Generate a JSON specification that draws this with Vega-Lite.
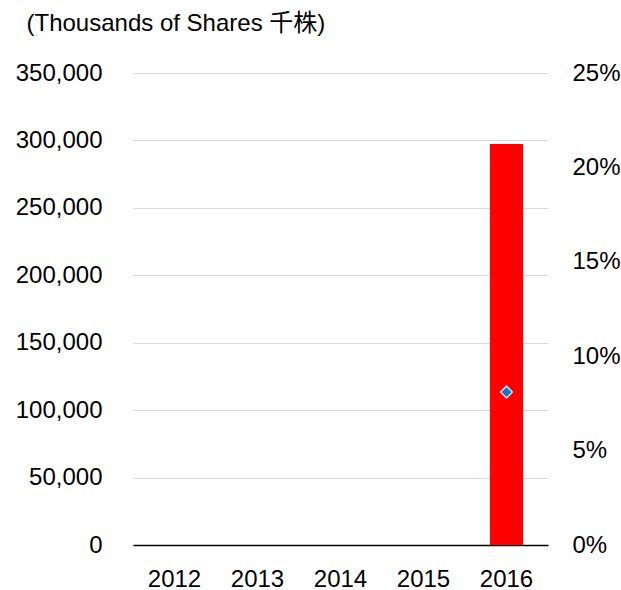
{
  "$schema": "https://vega.github.io/schema/vega-lite/v6.json",
  "width": 415,
  "height": 472,
  "autosize": "none",
  "padding": {"left": 133, "top": 73, "right": 73, "bottom": 45},
  "background": "white",
  "config": {
    "view": {"stroke": null},
    "font": "Liberation Sans, Arial, Noto Sans CJK JP",
    "axis": {
      "labelFont": "Liberation Sans, Arial, Noto Sans CJK JP",
      "titleFont": "Liberation Sans, Arial, Noto Sans CJK JP",
      "labelFontSize": 24,
      "labelColor": "#000000",
      "titleColor": "#000000",
      "ticks": false
    }
  },
  "data": {
    "values": [
      {"year": "2012", "shares": null, "pct": null},
      {"year": "2013", "shares": null, "pct": null},
      {"year": "2014", "shares": null, "pct": null},
      {"year": "2015", "shares": null, "pct": null},
      {"year": "2016", "shares": 297300, "pct": 0.081}
    ]
  },
  "encoding": {
    "x": {
      "field": "year",
      "type": "ordinal",
      "scale": {"domain": ["2012", "2013", "2014", "2015", "2016"], "paddingInner": 0.6, "paddingOuter": 0.3},
      "axis": {
        "title": null,
        "labelAngle": 0,
        "labelPadding": 22,
        "domainColor": "#000000",
        "domainWidth": 1.5,
        "grid": false
      }
    }
  },
  "layer": [
    {
      "mark": {"type": "bar", "color": "#FF0000"},
      "encoding": {
        "y": {
          "field": "shares",
          "type": "quantitative",
          "scale": {"domain": [0, 350000], "nice": false},
          "axis": {
            "orient": "left",
            "values": [0, 50000, 100000, 150000, 200000, 250000, 300000, 350000],
            "format": ",d",
            "domain": false,
            "grid": true,
            "gridColor": "#D9D9D9",
            "gridWidth": 1,
            "labelPadding": 31,
            "title": "(Thousands of Shares 千株)",
            "titleAngle": 0,
            "titleAlign": "left",
            "titleBaseline": "alphabetic",
            "titleX": -107,
            "titleY": -43,
            "titleFontSize": 24,
            "titleFontWeight": "normal"
          }
        }
      }
    },
    {
      "mark": {
        "type": "point",
        "shape": "diamond",
        "filled": true,
        "size": 140,
        "fill": "#1577C6",
        "stroke": "#C5E3F3",
        "strokeWidth": 1.5,
        "opacity": 1
      },
      "encoding": {
        "y": {
          "field": "pct",
          "type": "quantitative",
          "scale": {"domain": [0, 0.25], "nice": false},
          "axis": {
            "orient": "right",
            "values": [0, 0.05, 0.1, 0.15, 0.2, 0.25],
            "format": ".0%",
            "domain": false,
            "grid": false,
            "labelPadding": 24,
            "title": null
          }
        }
      }
    }
  ],
  "resolve": {"scale": {"y": "independent"}}
}
